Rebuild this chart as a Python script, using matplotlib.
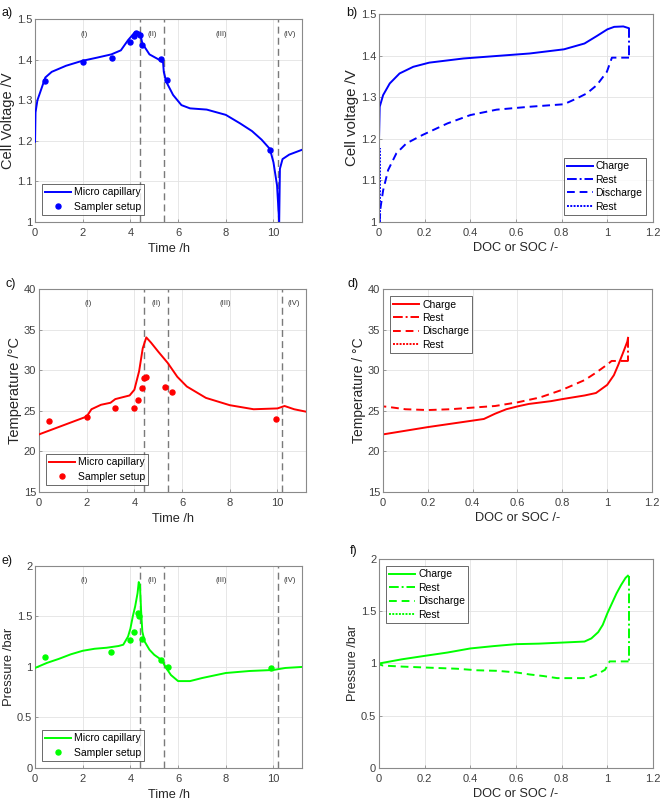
import matplotlib
matplotlib.use("Agg")
import matplotlib.pyplot as plt

plt.rcParams['font.family'] = ['Liberation Sans', 'DejaVu Sans']

# ---- time domain data (a, c, e) ----
t_volt = [0.0, 0.02, 0.1, 0.43, 0.7, 1.3, 1.97, 2.6, 3.2, 3.6, 3.9, 4.18, 4.4,
          4.5, 4.8, 5.2, 5.37, 5.4, 5.5, 5.79, 6.14, 6.5, 7.2, 8.0, 8.6, 9.1,
          9.5, 9.85, 10.0, 10.15, 10.24, 10.27, 10.38, 10.66, 11.2]
volt = [1.198, 1.27, 1.30, 1.356, 1.37, 1.385, 1.397, 1.405, 1.413, 1.423, 1.448, 1.467, 1.467,
        1.44, 1.413, 1.40, 1.393, 1.37, 1.346, 1.313, 1.288, 1.280, 1.277, 1.264, 1.243, 1.224,
        1.203, 1.18, 1.147, 1.09, 1.0, 1.131, 1.155, 1.166, 1.178]
t_volt_s = [0.42, 2.0, 3.21, 3.97, 4.14, 4.25, 4.39, 4.49, 5.30, 5.55, 9.86]
volt_s = [1.347, 1.394, 1.405, 1.444, 1.458, 1.465, 1.462, 1.436, 1.401, 1.350, 1.177]

t_temp = [0.0, 1.0, 2.0, 2.2, 2.6, 3.0, 3.2, 3.8, 4.0, 4.2, 4.35, 4.5, 4.7, 5.0,
          5.4, 5.8, 6.2, 7.0, 8.0, 9.0, 10.0, 10.3, 10.7, 11.2]
temp = [22.1, 23.2, 24.3, 25.2, 25.75, 26.0, 26.45, 26.9, 27.6, 29.9, 32.7, 34.05, 33.4, 32.3,
        30.9, 29.2, 28.0, 26.6, 25.7, 25.2, 25.3, 25.6, 25.2, 24.9]
t_temp_s = [0.42, 2.0, 3.2, 4.0, 4.17, 4.34, 4.42, 4.5, 5.3, 5.58, 9.92]
temp_s = [23.8, 24.3, 25.4, 25.4, 26.3, 27.8, 29.1, 29.2, 27.9, 27.3, 24.0]

t_pres = [0.0, 0.5, 1.0, 1.5, 2.0, 2.5, 3.0, 3.5, 3.7, 3.9, 4.0, 4.1, 4.2, 4.3, 4.35,
          4.4, 4.45, 4.5, 4.6, 4.8, 5.0, 5.3, 5.5, 5.7, 6.0, 6.5, 7.0, 7.5, 8.0, 9.0,
          10.0, 10.5, 11.2]
pres = [0.99, 1.04, 1.08, 1.125, 1.16, 1.18, 1.19, 1.207, 1.22, 1.30, 1.38, 1.5, 1.6, 1.73, 1.84,
        1.81, 1.55, 1.35, 1.25, 1.17, 1.12, 1.07, 0.99, 0.92, 0.86, 0.86, 0.89, 0.915, 0.94, 0.96,
        0.97, 0.99, 1.0]
t_pres_s = [0.42, 3.2, 4.0, 4.15, 4.3, 4.36, 4.47, 5.3, 5.57, 9.9]
pres_s = [1.10, 1.145, 1.27, 1.35, 1.53, 1.50, 1.28, 1.07, 1.0, 0.99]

phase_bounds = [4.4, 5.4, 10.2]
phase_names = ['(I)', '(II)', '(III)', '(IV)']
phase_x = [2.07, 4.9, 7.8, 10.7]

# ---- SOC domain data (b, d, f) ----
soc_v_chg = [0.0, 0.003, 0.018, 0.047, 0.09, 0.15, 0.22, 0.37, 0.515, 0.66, 0.81, 0.9,
             0.954, 1.0, 1.03, 1.07, 1.093]
v_chg = [1.2, 1.277, 1.305, 1.333, 1.357, 1.373, 1.383, 1.393, 1.399, 1.405, 1.415, 1.429,
         1.447, 1.463, 1.469, 1.470, 1.466]
soc_v_rest1 = [1.095, 1.095]
v_rest1 = [1.466, 1.395]
soc_v_dis = [1.095, 1.02, 0.998, 0.954, 0.91, 0.866, 0.81, 0.66, 0.515, 0.4, 0.3, 0.19,
             0.12, 0.076, 0.04, 0.018, 0.007, 0.003]
v_dis = [1.395, 1.395, 1.361, 1.329, 1.309, 1.297, 1.283, 1.277, 1.27, 1.257, 1.237, 1.209,
         1.189, 1.165, 1.125, 1.076, 1.036, 1.004]
soc_v_rest2 = [0.003, 0.003]
v_rest2 = [1.0, 1.177]

soc_t_chg = [0.0, 0.1, 0.2, 0.3, 0.4, 0.45, 0.5, 0.55, 0.6, 0.65, 0.75, 0.8, 0.9, 0.95,
             0.98, 1.0, 1.03, 1.05, 1.07, 1.09, 1.093]
t_chg = [22.1, 22.55, 23.0, 23.4, 23.8, 24.0, 24.65, 25.2, 25.55, 25.85, 26.2, 26.45, 26.9,
         27.2, 27.8, 28.2, 29.4, 30.7, 32.1, 33.55, 34.0]
soc_t_rest1 = [1.095, 1.095]
t_rest1 = [34.0, 31.15]
soc_t_dis = [1.095, 1.02, 1.0, 0.95, 0.9, 0.85, 0.8, 0.7, 0.6, 0.5, 0.4, 0.3, 0.2, 0.1,
             0.02, 0.0]
t_dis = [31.15, 31.15, 30.7, 29.7, 28.8, 28.2, 27.6, 26.65, 26.05, 25.6, 25.4, 25.2, 25.1,
         25.2, 25.5, 25.55]
soc_t_rest2 = [0.002, 0.002]
t_rest2 = [25.55, 24.9]

soc_p_chg = [0.0, 0.1, 0.2, 0.3, 0.4, 0.5, 0.6, 0.7, 0.8, 0.9, 0.93, 0.96, 0.98, 1.0,
             1.02, 1.04, 1.06, 1.08, 1.09]
p_chg = [1.0, 1.04, 1.073, 1.105, 1.144, 1.166, 1.185, 1.19, 1.2, 1.21, 1.24, 1.30, 1.37,
         1.48, 1.575, 1.67, 1.75, 1.82, 1.84]
soc_p_rest1 = [1.093, 1.093]
p_rest1 = [1.84, 1.02]
soc_p_dis = [1.093, 1.01, 0.99, 0.954, 0.925, 0.895, 0.84, 0.78, 0.72, 0.66, 0.6, 0.515,
             0.43, 0.34, 0.22, 0.105, 0.018, 0.003]
p_dis = [1.02, 1.02, 0.94, 0.895, 0.87, 0.86, 0.86, 0.86, 0.88, 0.895, 0.915, 0.93,
         0.935, 0.95, 0.96, 0.97, 0.98, 0.99]
soc_p_rest2 = [0.002, 0.002]
p_rest2 = [0.98, 1.0]

BLUE = (0, 0, 1)
RED = (1, 0, 0)
GREEN = (0, 1, 0)
LW = 1.4
TXT = '#262626'


def style_axes(ax, xlim, xticks, ylim, yticks):
    ax.set_xlim(xlim)
    ax.set_ylim(ylim)
    ax.set_xticks(xticks)
    ax.set_yticks(yticks)
    ax.set_xticklabels([('%g' % v) for v in xticks])
    ax.set_yticklabels([('%g' % v) for v in yticks])
    ax.grid(True, color='#e3e3e3', lw=0.6)
    ax.set_axisbelow(True)
    for s in ax.spines.values():
        s.set_color('#8a8a8a')
        s.set_linewidth(0.8)
    ax.tick_params(direction='in', length=2.5, width=0.6, colors='#8a8a8a',
                   labelcolor='#404040', labelsize=8, pad=2)
    ax.tick_params(axis='x', pad=4)


def finish_legend(ax, loc, spacing):
    leg = ax.legend(loc=loc, fontsize=7.5, handlelength=2.5, handletextpad=0.25,
                    borderpad=0.3, labelspacing=spacing, fancybox=False,
                    borderaxespad=0.7)
    leg.get_frame().set_edgecolor(TXT)
    leg.get_frame().set_linewidth(0.6)


def time_panel(ax, t, y, ts, ys, color, ylim, yticks, ylabel, ysize, label_y):
    style_axes(ax, (0, 11.2), [0, 2, 4, 6, 8, 10], ylim, yticks)
    for b in phase_bounds:
        ax.axvline(b, color='#7a7a7a', ls=(0, (5, 3)), lw=1.0, zorder=1)
    for name, px in zip(phase_names, phase_x):
        ax.text(px, label_y, name, fontsize=5.5, ha='center', va='center', color='#333333')
    ax.plot(t, y, color=color, lw=LW, label='Micro capillary', zorder=3)
    ax.plot(ts, ys, 'o', color=color, ms=3.6, label='Sampler setup', zorder=4)
    ax.set_xlabel('Time /h', fontsize=9.2, color=TXT, labelpad=4)
    ax.set_ylabel(ylabel, fontsize=ysize, color=TXT, labelpad=1)
    finish_legend(ax, 'lower left', 0.4)


def soc_panel(ax, curves, color, ylim, yticks, ylabel, ysize, loc):
    style_axes(ax, (0, 1.2), [0, 0.2, 0.4, 0.6, 0.8, 1.0, 1.2], ylim, yticks)
    styles = ['-', (0, (5, 1.5, 1, 1.5)), (0, (4, 2.5)), (0, (1, 0.7))]
    names = ['Charge', 'Rest', 'Discharge', 'Rest']
    for (x, y), ls, nm in zip(curves, styles, names):
        ax.plot(x, y, color=color, lw=LW, ls=ls, label=nm)
    ax.set_xlabel('DOC or SOC /-', fontsize=9.2, color=TXT, labelpad=3)
    ax.set_ylabel(ylabel, fontsize=ysize, color=TXT, labelpad=1)
    finish_legend(ax, loc, 0.33)


fig = plt.figure(figsize=(6.61, 8.02), dpi=100)

ax_a = fig.add_axes([0.053, 0.7232, 0.404, 0.253])
ax_b = fig.add_axes([0.5734, 0.7232, 0.4145, 0.2594])
ax_c = fig.add_axes([0.059, 0.3865, 0.404, 0.253])
ax_d = fig.add_axes([0.5794, 0.3865, 0.407, 0.253])
ax_e = fig.add_axes([0.053, 0.0424, 0.404, 0.252])
ax_f = fig.add_axes([0.5734, 0.0424, 0.4145, 0.2606])

time_panel(ax_a, t_volt, volt, t_volt_s, volt_s, BLUE, (1, 1.5),
           [1, 1.1, 1.2, 1.3, 1.4, 1.5], 'Cell Voltage /V', 10.5, 1.462)
time_panel(ax_c, t_temp, temp, t_temp_s, temp_s, RED, (15, 40),
           [15, 20, 25, 30, 35, 40], 'Temperature /°C', 10.5, 38.2)
time_panel(ax_e, t_pres, pres, t_pres_s, pres_s, GREEN, (0, 2),
           [0, 0.5, 1, 1.5, 2], 'Pressure /bar', 9.4, 1.86)

soc_panel(ax_b, [(soc_v_chg, v_chg), (soc_v_rest1, v_rest1), (soc_v_dis, v_dis),
                 (soc_v_rest2, v_rest2)], BLUE, (1, 1.5), [1, 1.1, 1.2, 1.3, 1.4, 1.5],
          'Cell voltage /V', 10.8, 'lower right')
soc_panel(ax_d, [(soc_t_chg, t_chg), (soc_t_rest1, t_rest1), (soc_t_dis, t_dis),
                 (soc_t_rest2, t_rest2)], RED, (15, 40), [15, 20, 25, 30, 35, 40],
          'Temperature / °C', 10.0, 'upper left')
soc_panel(ax_f, [(soc_p_chg, p_chg), (soc_p_rest1, p_rest1), (soc_p_dis, p_dis),
                 (soc_p_rest2, p_rest2)], GREEN, (0, 2), [0, 0.5, 1, 1.5, 2],
          'Pressure /bar', 9.1, 'upper left')

for lab, (px, py) in zip(['a)', 'b)', 'c)', 'd)', 'e)', 'f)'],
                         [(2, 13), (346, 13), (5, 284), (348, 284), (2, 561), (350, 551)]):
    fig.text(px / 661, 1 - py / 802, lab, fontsize=9, ha='left', va='center', color='#111111')

fig.savefig('out.png', dpi=100)
